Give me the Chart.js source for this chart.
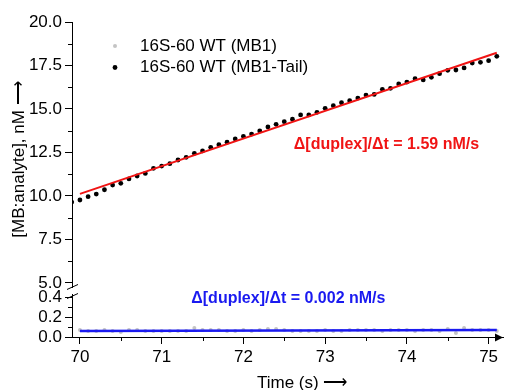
<!DOCTYPE html>
<html>
<head>
<meta charset="utf-8">
<script src="https://cdn.jsdelivr.net/npm/chart.js@4/dist/chart.umd.min.js"></script>
<style>
  body { margin: 0; background: #fff; }
</style>
</head>
<body>
<canvas id="Chart" width="507" height="390"></canvas>
<script>
var FONT = '"Liberation Sans", Arial, sans-serif';

// time axis (s)
var times = [69.9, 70.0, 70.1, 70.2, 70.3, 70.4, 70.5, 70.6, 70.7, 70.8, 70.9,
             71.0, 71.1, 71.2, 71.3, 71.4, 71.5, 71.6, 71.7, 71.8, 71.9,
             72.0, 72.1, 72.2, 72.3, 72.4, 72.5, 72.6, 72.7, 72.8, 72.9,
             73.0, 73.1, 73.2, 73.3, 73.4, 73.5, 73.6, 73.7, 73.8, 73.9,
             74.0, 74.1, 74.2, 74.3, 74.4, 74.5, 74.6, 74.7, 74.8, 74.9,
             75.0, 75.1];

// 16S-60 WT (MB1-Tail), nM
var tail = [9.65, 9.77, 9.96, 10.11, 10.36, 10.63, 10.73, 10.98, 11.15, 11.30, 11.59,
            11.72, 11.86, 12.07, 12.22, 12.45, 12.59, 12.80, 12.95, 13.09, 13.28,
            13.43, 13.56, 13.74, 13.97, 14.12, 14.27, 14.41, 14.66, 14.66, 14.81,
            15.04, 15.19, 15.36, 15.48, 15.63, 15.80, 15.84, 16.13, 16.19, 16.44,
            16.55, 16.74, 16.67, 16.82, 17.03, 17.22, 17.24, 17.36, 17.64, 17.68,
            17.78, 18.03];

// 16S-60 WT (MB1), nM
var mb1 = [null, 0.07, 0.06, 0.06, 0.07, 0.06, 0.05, 0.07, 0.07, 0.06, 0.06,
           0.06, 0.06, 0.06, 0.06, 0.09, 0.07, 0.07, 0.07, 0.06, 0.06,
           0.07, 0.06, 0.07, 0.08, 0.08, 0.07, 0.06, 0.06, 0.06, 0.06,
           0.07, 0.06, 0.06, 0.07, 0.07, 0.07, 0.07, 0.06, 0.07, 0.07,
           0.07, 0.06, 0.07, 0.07, 0.06, 0.08, 0.04, 0.09, 0.07, 0.07,
           0.07, 0.06];

// linear fits
var fitTimes = [70.0, 75.1];
var fitTail = [10.12, 18.23];
var fitMb1 = [0.06, 0.07];

var xTicks = [70, 71, 72, 73, 74, 75];
var xMinor = [70.5, 71.5, 72.5, 73.5, 74.5];
var yTopTicks = [5, 7.5, 10, 12.5, 15, 17.5, 20];
var yTopMinor = [6.25, 8.75, 11.25, 13.75, 16.25, 18.75];
var yBotTicks = [0, 0.2, 0.4];
var yBotMinor = [0.1, 0.3];

function pts(xs, ys) {
  var out = [];
  for (var i = 0; i < xs.length; i++) {
    if (ys[i] != null) out.push({ x: xs[i], y: ys[i] });
  }
  return out;
}

var extras = {
  id: 'extras',
  afterDraw: function(chart) {
    var ctx = chart.ctx;
    var x = chart.scales.x, yt = chart.scales.yTop, yb = chart.scales.yBot;
    ctx.save();
    ctx.strokeStyle = '#000';
    ctx.lineWidth = 1;

    // minor ticks
    ctx.beginPath();
    xMinor.forEach(function(v) {
      var px = Math.round(x.getPixelForValue(v)) + 0.5;
      ctx.moveTo(px, x.top);
      ctx.lineTo(px, x.top + 4);
    });
    yTopMinor.forEach(function(v) {
      var py = Math.round(yt.getPixelForValue(v)) + 0.5;
      ctx.moveTo(yt.right - 4, py);
      ctx.lineTo(yt.right, py);
    });
    yBotMinor.forEach(function(v) {
      var py = Math.round(yb.getPixelForValue(v)) + 0.5;
      ctx.moveTo(yb.right - 4, py);
      ctx.lineTo(yb.right, py);
    });
    ctx.stroke();

    // axis break
    var ax = yt.right;
    var y5 = yt.getPixelForValue(5);
    var y04 = yb.getPixelForValue(0.4);
    ctx.fillStyle = '#fff';
    ctx.fillRect(ax - 3, y5 + 5, 6, y04 - y5 - 8);
    ctx.beginPath();
    [y5 + 4, y04 - 1].forEach(function(yc) {
      ctx.moveTo(ax - 5, yc + 2.5);
      ctx.lineTo(ax + 6, yc - 2.5);
    });
    ctx.stroke();

    // arrow head on time axis
    var r = chart.chartArea.right, t = x.top + 0.5;
    ctx.fillStyle = '#000';
    ctx.beginPath();
    ctx.moveTo(r, t);
    ctx.lineTo(r - 8, t - 4);
    ctx.lineTo(r - 8, t + 4);
    ctx.closePath();
    ctx.fill();

    // time axis title
    ctx.font = '17px ' + FONT;
    ctx.textBaseline = 'middle';
    ctx.textAlign = 'left';
    ctx.fillText('Time (s) \u27F6', 257, 383);

    // legend
    var leg = [chart.data.datasets[2], chart.data.datasets[3]];
    leg.forEach(function(ds, i) {
      var ly = 46 + i * 21.5;
      ctx.fillStyle = ds.pointBackgroundColor;
      ctx.beginPath();
      ctx.arc(115, ly, ds.pointRadius, 0, Math.PI * 2);
      ctx.fill();
      ctx.fillStyle = '#000';
      ctx.fillText(ds.label, 140, ly);
    });

    // slope annotations
    ctx.font = 'bold 16px ' + FONT;
    ctx.textAlign = 'center';
    ctx.fillStyle = '#f01414';
    ctx.fillText('\u0394[duplex]/\u0394t = 1.59 nM/s', x.getPixelForValue(73.75), yt.getPixelForValue(12.93));
    ctx.fillStyle = '#1a1af0';
    ctx.fillText('\u0394[duplex]/\u0394t = 0.002 nM/s', x.getPixelForValue(72.55), yb.getPixelForValue(0.38));
    ctx.restore();
  }
};

function axisTicks(list) {
  return function(s) { s.ticks = list.map(function(v) { return { value: v }; }); };
}

var tickFont = { size: 17, family: FONT };

new Chart(document.getElementById('Chart'), {
  type: 'scatter',
  data: {
    datasets: [{
      label: 'fit MB1-Tail',
      data: pts(fitTimes, fitTail),
      yAxisID: 'yTop',
      showLine: true,
      borderColor: '#f01414',
      borderWidth: 2,
      pointRadius: 0,
      order: 0
    }, {
      label: 'fit MB1',
      data: pts(fitTimes, fitMb1),
      yAxisID: 'yBot',
      showLine: true,
      borderColor: '#1a1af0',
      borderWidth: 2.5,
      pointRadius: 0,
      order: 0
    }, {
      label: '16S-60 WT (MB1)',
      data: pts(times, mb1),
      yAxisID: 'yBot',
      pointRadius: 2,
      pointBackgroundColor: '#c4c4c4',
      pointBorderWidth: 0,
      order: 1
    }, {
      label: '16S-60 WT (MB1-Tail)',
      data: pts(times, tail),
      yAxisID: 'yTop',
      pointRadius: 2.4,
      pointBackgroundColor: '#000',
      pointBorderWidth: 0,
      order: 1
    }]
  },
  options: {
    responsive: false,
    animation: false,
    layout: { padding: { top: 22, right: 0, bottom: 0, left: 0 } },
    plugins: { legend: { display: false }, tooltip: { enabled: false } },
    scales: {
      x: {
        type: 'linear',
        min: 69.903,
        max: 75.176,
        afterBuildTicks: axisTicks(xTicks),
        afterFit: function(s) { s.height = 53; },
        ticks: { color: '#000', font: tickFont, padding: 3, maxRotation: 0, autoSkip: false,
                 callback: function(v) { return String(v); } },
        grid: { drawOnChartArea: false, color: '#000', tickLength: 7 },
        border: { color: '#000', width: 1 }
      },
      yBot: {
        type: 'linear',
        position: 'left',
        stack: 'y',
        stackWeight: 40,
        min: 0,
        max: 0.4,
        afterBuildTicks: axisTicks(yBotTicks),
        afterFit: function(s) { s.width = 72; },
        ticks: { color: '#000', font: tickFont, padding: 3, autoSkip: false,
                 callback: function(v) { return v.toFixed(1); } },
        grid: { drawOnChartArea: false, color: '#000', tickLength: 7 },
        border: { color: '#000', width: 1 }
      },
      yTop: {
        type: 'linear',
        position: 'left',
        stack: 'y',
        stackWeight: 275,
        min: 4.195,
        max: 20,
        afterBuildTicks: axisTicks(yTopTicks),
        afterFit: function(s) { s.width = 72; },
        ticks: { color: '#000', font: tickFont, padding: 3, autoSkip: false,
                 callback: function(v) { return v.toFixed(1); } },
        grid: { drawOnChartArea: false, color: '#000', tickLength: 7 },
        border: { color: '#000', width: 1 },
        title: { display: true, text: '[MB:analyte], nM \u27F6', color: '#000',
                 font: { size: 17, family: FONT, lineHeight: 1.2 }, padding: { top: 9, bottom: 0 } }
      }
    }
  },
  plugins: [extras]
});
</script>
</body>
</html>
